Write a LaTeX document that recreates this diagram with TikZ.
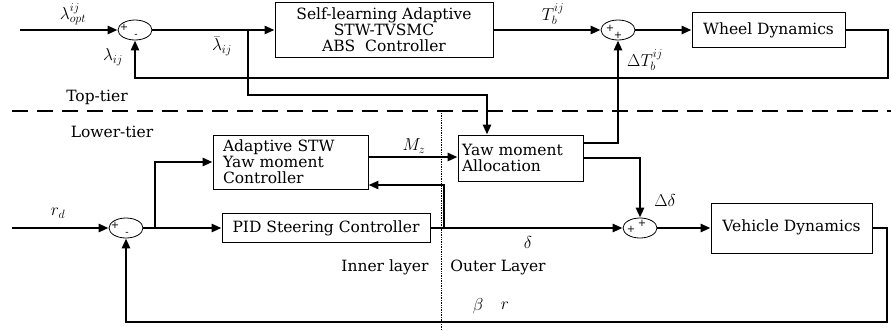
\documentclass[tikz,border=0pt]{standalone}
\usepackage{fontspec}
\setmainfont{DejaVu Serif}
\usetikzlibrary{arrows.meta,shapes.geometric,calc}
\begin{document}
\begin{tikzpicture}[x=1pt,y=-1pt,
  font=\fontsize{15.5}{16}\selectfont,
  blk/.style={draw, line width=0.9pt, inner sep=0pt, align=center},
  sumj/.style={draw, ellipse, line width=0.8pt, minimum width=34pt, minimum height=20pt, inner sep=0pt},
  sgn/.style={font=\fontsize{10}{10}\selectfont, inner sep=0pt},
  wire/.style={line width=2.6pt},
  sig/.style={wire, -{Triangle[length=10pt,width=8pt]}},
  lbl/.style={inner sep=0pt},
  mlbl/.style={inner sep=0pt, font=\fontsize{17}{17}\selectfont},
]
\useasboundingbox (0,0) rectangle (891,330);

% ---------- blocks ----------
\node[blk, minimum width=218pt, minimum height=55pt] (abs) at (384,30)
  {Self-learning Adaptive\\STW-TVSMC\\ABS~~Controller};
\node[blk, minimum width=153pt, minimum height=35pt] (wheel) at (768.5,30) {\raisebox{2pt}{Wheel Dynamics}};
\node[blk, minimum width=155pt, minimum height=54pt, align=left, text width=135pt] (stw) at (290.5,162)
  {Adaptive STW\\Yaw moment\\Controller};
\node[blk, minimum width=125pt, minimum height=46pt, align=left, text width=117pt] (alloc) at (520.5,158)
  {Yaw moment\\Allocation};
\node[blk, minimum width=208pt, minimum height=29pt] (pid) at (326,228) {PID Steering Controller};
\node[blk, minimum width=161pt, minimum height=50pt] (veh) at (791.5,228) {\raisebox{4pt}{Vehicle Dynamics}};

% ---------- summing junctions ----------
\node[sumj] (s1) at (135,30) {};
\node[sumj] (s2) at (618,30) {};
\node[sumj] (s3) at (640,228) {};
\node[sumj] (s4) at (126,228) {};
\node[sgn] (s1p) at ($(s1)+(-11,-3)$) {+};
\node[sgn] (s1m) at ($(s1)+(1,6)$) {-};
\node[sgn] (s2p) at ($(s2)+(-8,-2)$) {+};
\node[sgn] (s2q) at ($(s2)+(0,5)$) {+};
\node[sgn] (s3p) at ($(s3)+(-9,1)$) {+};
\node[sgn] (s3q) at ($(s3)+(2,-5)$) {+};
\node[sgn] (s4p) at ($(s4)+(-11,-3)$) {+};
\node[sgn] (s4m) at ($(s4)+(1,6)$) {-};

% ---------- tier and layer separators ----------
\coordinate (dl) at (12,111);
\coordinate (dr) at (891,111);
\draw[line width=1.8pt, dash pattern=on 16pt off 9pt] (dl) -- (dr);
\coordinate (vt) at (441,113);
\coordinate (vb) at (441,330);
\draw[line width=0.7pt, densely dotted] (vt) -- (vb);

% ---------- free ends and bends ----------
\coordinate (in1) at (20,30);
\coordinate (in2) at (12,228);
\coordinate (b1) at (248,30);
\coordinate (a1) at (487,95);
\coordinate (fw) at (888,78);
\coordinate (b2) at (155,228);
\coordinate (b3) at (444,228);
\coordinate (fv) at (887,322);

% ---------- top tier ----------
\draw[sig] (in1) -- (s1.west);
\draw[sig] (s1.east) -- (abs.west);
\draw[sig] (b1) |- (a1) -- (a1 |- alloc.north);
\draw[sig] (abs.east) -- (s2.west);
\draw[sig] (s2.east) -- (wheel.west);
\draw[sig] (wheel.east) -| (fw) -| (s1.south);
\draw[sig] ([yshift=15pt]alloc.east) -| (s2.south);

% ---------- lower tier ----------
\draw[sig] (in2) -- (s4.west);
\draw[sig] (s4.east) -- (pid.west);
\draw[sig] (b2) |- (stw.west);
\draw[sig] ([yshift=5pt]stw.east) -- ([yshift=5pt]stw.east -| alloc.west);
\draw[sig] (alloc.east) -| (s3.north);
\draw[sig] (pid.east) -- (s3.west);
\draw[sig] (b3) |- ([yshift=-23pt]stw.east);
\draw[sig] (s3.east) -- (veh.west);
\draw[sig] (veh.east) -| (fv) -| (s4.south);

% ---------- signal labels ----------
\node[mlbl] (lopt) at (73,14) {$\lambda^{ij}_{opt}$};
\node[mlbl] (lij) at (113,57) {$\lambda_{ij}$};
\node[mlbl] (lbar) at (222,46) {$\bar{\lambda}_{ij}$};
\node[mlbl] (tb) at (553,14) {$T^{ij}_{b}$};
\node[mlbl] (dtb) at (645,60) {$\Delta T^{ij}_{b}$};
\node[mlbl] (mz) at (414,146) {$M_z$};
\node[mlbl] (dd) at (665,200) {$\Delta\delta$};
\node[mlbl] (dl2) at (528,242) {$\delta$};
\node[mlbl] (beta) at (478,306) {$\beta$};
\node[mlbl] (rr) at (505,306) {$r$};
\node[mlbl] (rd) at (58,213) {$r_d$};

% ---------- region labels ----------
\node[lbl] (top) at (97,97) {Top-tier};
\node[lbl] (low) at (112,132) {Lower-tier};
\node[lbl] (inner) at (385,267) {Inner layer};
\node[lbl] (outer) at (498,267) {Outer Layer};
\end{tikzpicture}
\end{document}
